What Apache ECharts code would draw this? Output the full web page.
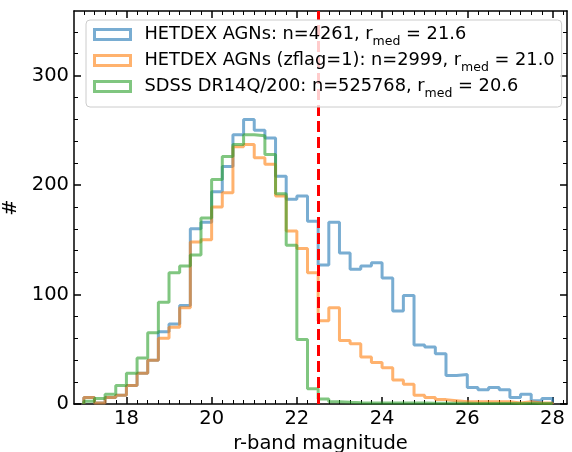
<!DOCTYPE html>
<html>
<head>
<meta charset="utf-8">
<script src="https://cdn.jsdelivr.net/npm/echarts@6/dist/echarts.min.js"></script>
<style>
html,body{margin:0;padding:0;background:#fff;}
#chart{width:572px;height:452px;}
</style>
</head>
<body>
<div id="chart"></div>
<script>
// ---- data ----
const binStart = 17.0;
const binWidth = 0.25;
const seriesNames = [
  'HETDEX AGNs: n=4261, r_med = 21.6',
  'HETDEX AGNs (zflag=1): n=2999, r_med = 21.0',
  'SDSS DR14Q/200: n=525768, r_med = 20.6'
];
const hetdexAll = [6,1,6,8,17,28,40,66,73,90,160,166,194,217,246,260,250,243,208,187,190,167,127,166,138,123,126,129,115,85,99,54,52,46,26,27,15,13,15,13,6,9,3,5];
const hetdexZflag = [6,1,6,8,17,28,40,60,70,88,148,150,180,193,235,237,225,219,190,158,142,120,76,88,58,55,43,38,33,22,18,8,6,4,3,2,2,2,2,2,1,2,1,1];
const sdss = [2.4,5,9,17,28,42,65,93,120,126,136,170,205,226,237,246,245,228,192,145,59,14,4.5,2,1.5,1.2,1,1,1,0.9,0.8,0.8,0.7,0.7,0.6,0.6,0.5,0.5,0.5,0.5,0.4,0.4,0.4,0.4];
const cutMag = 22.5;
const xTickLabels = [18,20,22,24,26,28];
const yTickLabels = [0,100,200,300];
const xRange = [16.77, 28.34];
const yRange = [0, 359];

// ---- helpers ----
const colors = ['#1f77b4','#ff7f0e','#2ca02c'];
const alphaCol = ['rgba(31,119,180,0.6)','rgba(255,127,14,0.6)','rgba(44,160,44,0.6)'];
function stepData(counts){
  const pts = [[binStart, 0]];
  counts.forEach((c,i)=>pts.push([binStart + i*binWidth, c]));
  const end = binStart + counts.length*binWidth;
  pts.push([end, counts[counts.length-1]]);
  pts.push([end, 0]);
  return pts;
}
const xMinor = [];
for (let v = binStart; v <= xRange[1]; v += binWidth) {
  const r = Math.round(v*100)/100;
  if (xTickLabels.indexOf(r) < 0) xMinor.push(r);
}
const yMinor = [];
for (let v = 20; v < yRange[1]; v += 20) { if (v % 100 !== 0) yMinor.push(v); }

const FONT = 'DejaVu Sans';
const FS = 19.5;
const black = '#000';
function xAx(pos, vals, len, w, showLine, labels, extra){
  return Object.assign({
    type:'value', position:pos, min:xRange[0], max:xRange[1],
    axisLine:{show:showLine, onZero:false, lineStyle:{color:black,width:1.5}},
    axisTick:{show:true, inside:true, length:len, lineStyle:{color:black,width:w}, customValues:vals},
    axisLabel:{show:labels, customValues:vals, fontSize:FS, color:black, fontFamily:FONT, margin:5},
    splitLine:{show:false}
  }, extra||{});
}
function yAx(pos, vals, len, w, showLine, labels, extra){
  return Object.assign({
    type:'value', position:pos, min:yRange[0], max:yRange[1],
    axisLine:{show:showLine, onZero:false, lineStyle:{color:black,width:1.5}},
    axisTick:{show:true, inside:true, length:len, lineStyle:{color:black,width:w}, customValues:vals},
    axisLabel:{show:labels, customValues:vals, fontSize:FS, color:black, fontFamily:FONT, margin:5},
    splitLine:{show:false}
  }, extra||{});
}

const chart = echarts.init(document.getElementById('chart'), null, {renderer:'canvas'});
const allCounts = [hetdexAll, hetdexZflag, sdss];
const series = allCounts.map((c,i)=>({
  name: seriesNames[i], type:'line', step:'end', data: stepData(c),
  xAxisIndex:0, yAxisIndex:0, showSymbol:false, symbol:'none',
  lineStyle:{color:colors[i], width:3, opacity:0.6},
  itemStyle:{color:colors[i]},
  z: 2 + i*0.1
}));
series[2].markLine = {
  silent:true, symbol:['none','none'], label:{show:false}, z:3,
  lineStyle:{color:'#ff0000', type:[11,5], width:3, opacity:1},
  emphasis:{disabled:true},
  data:[{xAxis:cutMag}]
};

chart.setOption({
  animation:false,
  grid:{left:74, right:5, top:11, bottom:48, containLabel:false, outerBoundsMode:'none'},
  xAxis:[
    xAx('bottom', xTickLabels, 7, 1.5, true, true, {name:'r-band magnitude', nameLocation:'middle', nameGap:24, nameTextStyle:{fontSize:FS,color:black,fontFamily:FONT}}),
    xAx('bottom', xMinor, 4, 1, false, false),
    xAx('top', xTickLabels, 7, 1.5, true, false),
    xAx('top', xMinor, 4, 1, false, false)
  ],
  yAxis:[
    yAx('left', yTickLabels, 7, 1.5, true, true, {name:'#', nameLocation:'middle', nameRotate:90, nameGap:45, nameTextStyle:{fontSize:FS,color:black,fontFamily:FONT}}),
    yAx('left', yMinor, 4, 1, false, false),
    yAx('right', yTickLabels, 7, 1.5, true, false),
    yAx('right', yMinor, 4, 1, false, false)
  ],
  legend:{
    orient:'vertical', left:86, top:20, z:20,
    padding:[4,7,7,7], itemGap:2, itemWidth:36, itemHeight:10,
    backgroundColor:'rgba(255,255,255,0.8)', borderColor:'#cccccc', borderWidth:1, borderRadius:4,
    icon:'rect',
    data: seriesNames.map((n,i)=>({name:n, icon:'rect', itemStyle:{color:'rgba(0,0,0,0)', borderColor:alphaCol[i], borderWidth:3}})),
    formatter: n => n.replace('r_med', 'r{sub|med}'),
    textStyle:{fontSize:17.8, color:black, fontFamily:FONT, lineHeight:21, padding:[0,0,0,9],
      rich:{sub:{fontSize:12.5, fontFamily:FONT, color:black, lineHeight:10, verticalAlign:'top', padding:[11,0,0,0]}}},
    selectedMode:false
  },
  series: series
});
</script>
</body>
</html>
